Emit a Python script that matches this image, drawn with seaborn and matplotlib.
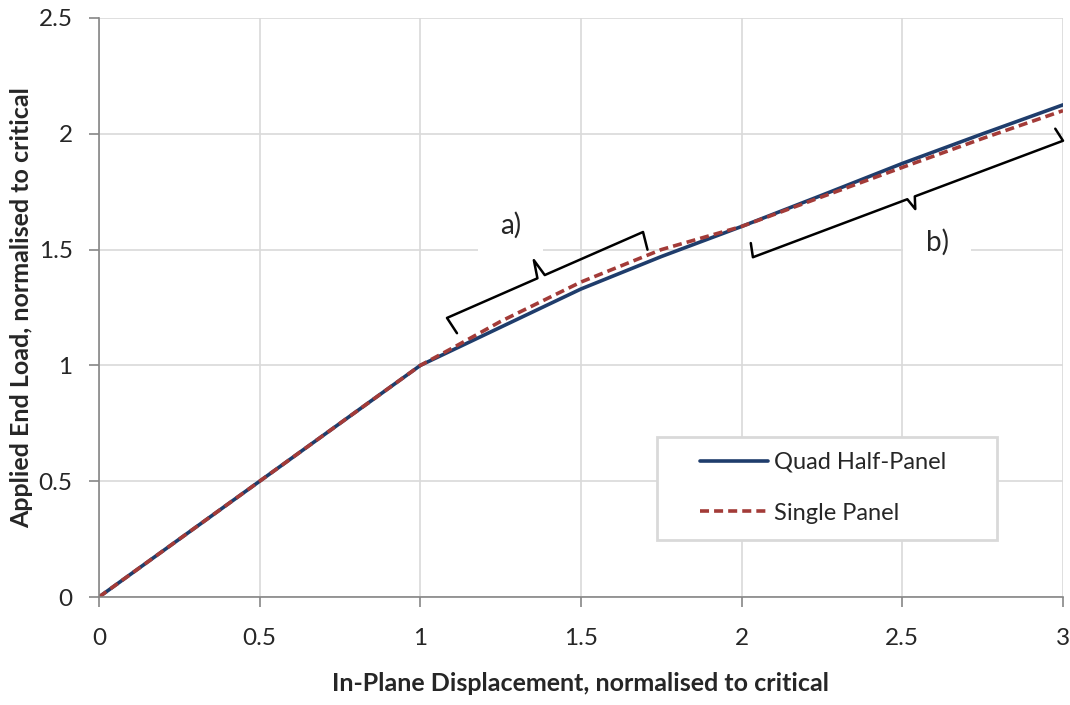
import numpy as np
import pandas as pd
import matplotlib
matplotlib.use("Agg")
import matplotlib.pyplot as plt
from matplotlib.patches import Rectangle
import seaborn as sns

# ---- data ----
quad_x = [0.0, 1.0, 1.25, 1.5, 1.75, 2.0, 2.25, 2.5, 2.75, 3.0]
quad_y = [0.0, 1.0, 1.165, 1.33, 1.47, 1.60, 1.735, 1.872, 2.0, 2.125]
single_x = [0.0, 1.0, 1.1, 1.25, 1.5, 1.75, 2.0, 2.25, 2.5, 2.75, 3.0]
single_y = [0.0, 1.0, 1.075, 1.19, 1.36, 1.50, 1.60, 1.728, 1.855, 1.98, 2.10]
series_names = ["Quad Half-Panel", "Single Panel"]
x_ticks = [0, 0.5, 1, 1.5, 2, 2.5, 3]
x_tick_labels = ["0", "0.5", "1", "1.5", "2", "2.5", "3"]
y_ticks = [0, 0.5, 1, 1.5, 2, 2.5]
y_tick_labels = ["0", "0.5", "1", "1.5", "2", "2.5"]

df = pd.concat([
    pd.DataFrame({"x": quad_x, "y": quad_y, "series": series_names[0]}),
    pd.DataFrame({"x": single_x, "y": single_y, "series": series_names[1]}),
], ignore_index=True)

sns.set_style("white")
plt.rcParams["font.family"] = ["Lato", "DejaVu Sans"]

W, H = 1070, 705
fig = plt.figure(figsize=(W / 100, H / 100), dpi=100)
L, R, T, B = 99, 1063, 18, 597
ax = fig.add_axes([L / W, 1 - B / H, (R - L) / W, (B - T) / H])

palette = {series_names[0]: "#1F3D6C", series_names[1]: "#A33B38"}
sns.lineplot(data=df, x="x", y="y", hue="series", style="series",
             palette=palette, dashes={series_names[0]: "", series_names[1]: (2.5, 1.4)},
             sort=False, estimator=None, linewidth=2.6, ax=ax, legend=True)

ax.set_xlim(0, 3)
ax.set_ylim(0, 2.5)
ax.set_xticks(x_ticks)
ax.set_xticklabels(x_tick_labels)
ax.set_yticks(y_ticks)
ax.set_yticklabels(y_tick_labels)
ax.grid(True, color="#D9D9D9", linewidth=1.2)
ax.set_axisbelow(True)
for s in ["top", "right"]:
    ax.spines[s].set_visible(False)
for s in ["left", "bottom"]:
    ax.spines[s].set_color("#868686")
    ax.spines[s].set_linewidth(1.2)
ax.tick_params(axis="x", direction="out", length=7, width=1.2, color="#868686",
               pad=15, labelsize=17.5, bottom=True)
ax.tick_params(axis="y", direction="out", length=7, width=1.2, color="#868686",
               pad=12, labelsize=17.5, left=True)

ax.set_xlabel("In-Plane Displacement, normalised to critical", fontsize=18,
              fontweight="bold", labelpad=17)
ax.set_ylabel("Applied End Load, normalised to critical", fontsize=18,
              fontweight="bold", labelpad=4)

# legend frame drawn as a patch, entries without frame
ax_w, ax_h = R - L, B - T
frame = Rectangle(((657 - L) / ax_w, (B - 540) / ax_h), (997 - 657) / ax_w, (540 - 437) / ax_h,
                  transform=ax.transAxes, facecolor="white", edgecolor="#D9D9D9",
                  linewidth=2, zorder=6)
ax.add_patch(frame)
leg = ax.legend(loc="upper left", bbox_to_anchor=((700 - L) / ax_w, (B - 452) / ax_h),
                frameon=False, fontsize=17, handlelength=2.9, handletextpad=0.25,
                borderpad=0, labelspacing=1.25, borderaxespad=0)
leg.set_zorder(7)
leg.set_title(None)


def brace(ax, p_start, p_end, tip_frac, depth_px, hook_px, color="black"):
    """Draw a brace between two data points; depth/hook in pixels."""
    to_disp = ax.transData.transform
    inv = ax.transData.inverted().transform
    a = np.array(to_disp(p_start))
    b = np.array(to_disp(p_end))
    d = b - a
    u = d / np.linalg.norm(d)
    n = np.array([-d[1], d[0]]) / np.linalg.norm(d)
    if n[1] < 0:
        n = -n
    m = a + d * tip_frac
    pts = [a - n * hook_px + u * 3, a, m - u * 4, m + n * depth_px, m + u * 4, b,
           b - n * hook_px - u * 3]
    pts = np.array([inv(p) for p in pts])
    ax.plot(pts[:, 0], pts[:, 1], color=color, linewidth=1.8,
            solid_joinstyle="round", clip_on=False, zorder=5)


# brace a) : tip pointing up, hooks pointing down
brace(ax, (1.083, 1.205), (1.693, 1.576), 0.48, 18, 18)
# brace b) : tip pointing down, hooks pointing up
brace(ax, (2.035, 1.467), (3.0, 1.97), 0.51, -12, -14)

bbox = dict(facecolor="white", edgecolor="none", pad=16)
ax.text(1.28, 1.606, "a)", fontsize=20, ha="center", va="center", bbox=bbox, zorder=4)
ax.text(2.608, 1.533, "b)", fontsize=20, ha="center", va="center", bbox=bbox, zorder=4)

fig.savefig("out.png", dpi=100)
